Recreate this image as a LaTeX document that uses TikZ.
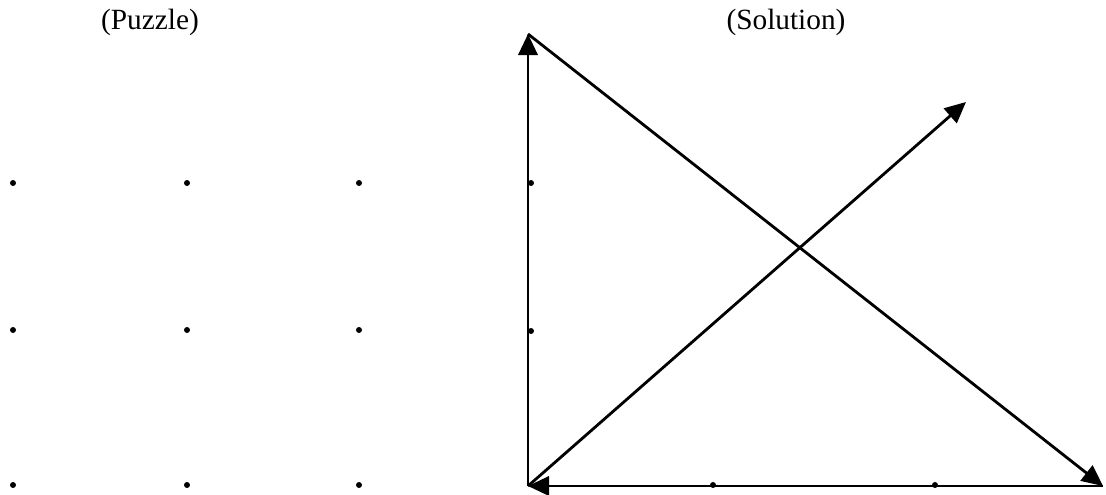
\documentclass[tikz,border=0pt]{standalone}
\usepackage{fontspec}
\setmainfont{Liberation Serif}
\usetikzlibrary{arrows.meta}

\begin{document}
\begin{tikzpicture}[x=0.02cm,y=-0.02cm,
  dot/.style={circle,fill,inner sep=0pt,minimum size=0.12cm},
  arr/.style={line width=1.6pt,-{Triangle[length=12pt,width=11pt]}},
  title/.style={font=\fontsize{16.7}{20}\selectfont}]
  \useasboundingbox (0,0) rectangle (1106,494);
  \node[title] (puzzle) at (150,22) {(Puzzle)};
  \node[title] (solution) at (786,22) {(Solution)};
  % puzzle grid
  \foreach \i/\x in {1/13,2/187,3/359}
    \foreach \j/\y in {1/183,2/330,3/485}
      \node[dot] (p\i\j) at (\x,\y) {};
  % solution
  \node[dot] (s11) at (531,183) {};
  \node[dot] (s12) at (531,331) {};
  \node[dot] (s23) at (713,485) {};
  \node[dot] (s33) at (935,485) {};
  \coordinate (corner) at (528,486);
  \coordinate (top) at (528,34);
  \coordinate (right) at (1103,486);
  \coordinate (tip) at (966,102);
  \draw[arr] (corner) -- (top);
  \draw[arr] (top) -- (right);
  \draw[arr] (right) -- (corner);
  \draw[arr] (corner) -- (tip);
\end{tikzpicture}
\end{document}
